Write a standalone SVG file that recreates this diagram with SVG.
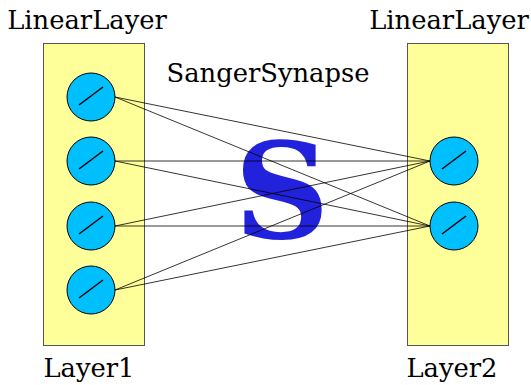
<svg xmlns="http://www.w3.org/2000/svg" width="531" height="385" viewBox="0 0 531 385">
<style>
.box{fill:#ffff99;stroke:#555;stroke-width:1}
.n{fill:#00bfff;stroke:#000;stroke-width:1}
.sl{stroke:#000;stroke-width:1.5}
.t{font-family:"DejaVu Serif",serif;font-size:25.8px;fill:#000;text-anchor:middle}
.c line{stroke:#000;stroke-width:0.8}
</style>
<defs>
<g id="neuron"><circle class="n" r="24"/><line class="sl" x1="-12" y1="8" x2="12" y2="-10"/></g>
</defs>
<rect width="531" height="385" fill="#fff"/>
<g id="layer1">
<rect class="box" x="43.5" y="43.5" width="101" height="302"/>
<text class="t" x="87" y="29">LinearLayer</text>
<text class="t" x="89" y="377">Layer1</text>
</g>
<g id="layer2">
<rect class="box" x="407.5" y="43.5" width="101" height="302"/>
<text class="t" x="449" y="29">LinearLayer</text>
<text class="t" x="452" y="377">Layer2</text>
</g>
<g id="synapse">
<text class="t" x="268" y="81.5">SangerSynapse</text>
<text x="282" y="238" font-family="DejaVu Serif,serif" font-weight="bold" font-size="132" fill="#2222dd" text-anchor="middle">S</text>
</g>
<g id="connectors" class="c">
<line x1="115" y1="97" x2="430" y2="161"/>
<line x1="115" y1="97" x2="430" y2="226"/>
<line x1="115" y1="161" x2="430" y2="161"/>
<line x1="115" y1="161" x2="430" y2="226"/>
<line x1="115" y1="226" x2="430" y2="161"/>
<line x1="115" y1="226" x2="430" y2="226"/>
<line x1="115" y1="290" x2="430" y2="161"/>
<line x1="115" y1="290" x2="430" y2="226"/>
</g>
<g id="n1_1"><use href="#neuron" x="91" y="97"/></g>
<g id="n1_2"><use href="#neuron" x="91" y="161"/></g>
<g id="n1_3"><use href="#neuron" x="91" y="226"/></g>
<g id="n1_4"><use href="#neuron" x="91" y="290"/></g>
<g id="n2_1"><use href="#neuron" x="454" y="161"/></g>
<g id="n2_2"><use href="#neuron" x="454" y="226"/></g>
</svg>
